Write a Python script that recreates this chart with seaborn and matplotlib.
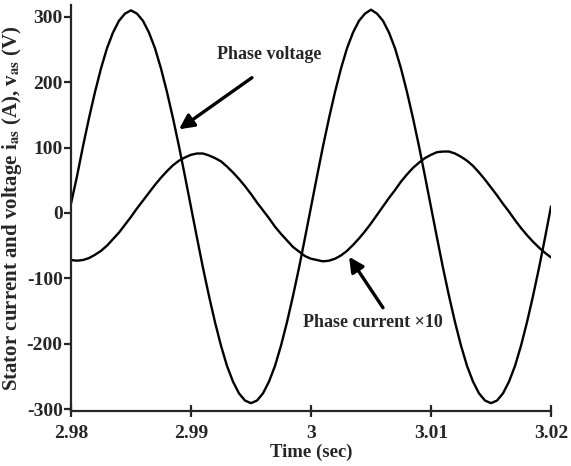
import numpy as np
import pandas as pd
import matplotlib
matplotlib.use("Agg")
import matplotlib.pyplot as plt
import seaborn as sns

# time samples (s)
time = [round(2.98 + 0.0005 * k, 4) for k in range(81)]

# phase voltage (V)
voltage = [14, 56, 102, 145, 185, 221, 252, 276, 294, 305, 310,
           305, 294, 276, 252, 221, 185, 145, 102, 56, 9,
           -38, -84, -127, -167, -203, -234, -258, -276, -287, -291,
           -287, -276, -258, -234, -203, -167, -127, -84, -38, 9,
           56, 102, 145, 185, 221, 252, 276, 294, 305, 311,
           305, 294, 276, 252, 221, 185, 145, 102, 56, 9,
           -38, -84, -127, -167, -203, -234, -258, -276, -287, -291,
           -287, -276, -258, -234, -203, -167, -127, -84, -38, 10]

# phase current x10 (A)
current = [-72, -73, -72, -69, -64, -58, -50, -40, -30, -18, -6,
           7, 19, 31, 43, 54, 64, 73, 80, 85, 89,
           91, 91, 88, 84, 79, 71, 62, 52, 41, 29,
           16, 4, -8, -21, -32, -42, -52, -59, -66, -70,
           -72, -74, -73, -70, -65, -58, -49, -39, -28, -16,
           -3, 10, 23, 35, 48, 59, 69, 77, 84, 89,
           93, 94, 94, 91, 86, 80, 72, 62, 51, 39,
           27, 14, 2, -11, -23, -34, -44, -53, -61, -68]

xticks = [2.98, 2.99, 3.00, 3.01, 3.02]
xtick_labels = ["2.98", "2.99", "3", "3.01", "3.02"]
yticks = [-300, -200, -100, 0, 100, 200, 300]

df = pd.DataFrame({"time": time, "voltage": voltage, "current": current})

sns.set_style("ticks")
plt.rcParams["font.family"] = ["Liberation Serif", "DejaVu Serif"]
plt.rcParams["mathtext.fontset"] = "stix"
plt.rcParams["axes.unicode_minus"] = False

fig = plt.figure(figsize=(5.71, 4.66), dpi=100)
ax = fig.add_axes([0.1243, 0.118, 0.8407, 0.871])

sns.lineplot(data=df, x="time", y="voltage", ax=ax, color="black", lw=1.7)
sns.lineplot(data=df, x="time", y="current", ax=ax, color="black", lw=1.7)

ax.set_xlim(2.98, 3.02)
ax.set_ylim(-303, 318)
ax.set_xticks(xticks)
ax.set_xticklabels(xtick_labels)
ax.set_yticks(yticks)
for s in ["top", "right"]:
    ax.spines[s].set_visible(False)
for s in ["left", "bottom"]:
    ax.spines[s].set_linewidth(1.6)
ax.tick_params(axis="x", direction="inout", length=8, width=1.6, labelsize=14, pad=6)
ax.tick_params(axis="y", direction="out", length=5, width=1.6, labelsize=14, pad=1)
for lab in ax.get_xticklabels() + ax.get_yticklabels():
    lab.set_fontweight("bold")

ax.set_xlabel("Time (sec)", fontsize=13.5, fontweight="bold", labelpad=1)
ax.set_ylabel(r"Stator current and voltage i$_{\mathbf{as}}$ (A), v$_{\mathbf{as}}$ (V)",
              fontsize=15, fontweight="bold", labelpad=2)

arrow = dict(arrowstyle="-|>", color="black", lw=2.4, mutation_scale=22, shrinkA=0, shrinkB=0)
ax.annotate("", xy=(2.9890, 128), xytext=(2.99508, 207), arrowprops=arrow)
ax.text(2.9965, 242, "Phase voltage", fontsize=13, fontweight="bold", ha="center", va="center")
ax.annotate("", xy=(3.00317, -67), xytext=(3.0060, -145), arrowprops=arrow)
ax.text(3.00517, -168, "Phase current \u00d710", fontsize=13, fontweight="bold",
        ha="center", va="center")

fig.savefig("out.png", dpi=100)
